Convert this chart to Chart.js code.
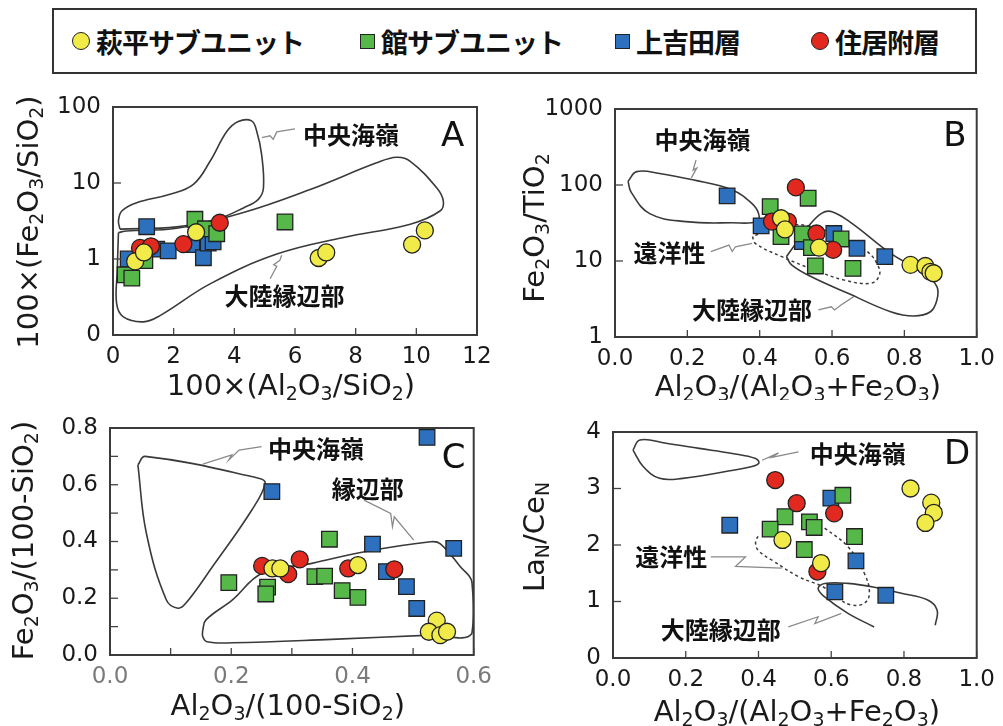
<!DOCTYPE html>
<html><head><meta charset="utf-8">
<script src="https://cdn.jsdelivr.net/npm/chart.js@4/dist/chart.umd.min.js"></script>
<style>
html,body{margin:0;padding:0;background:#fff;}
body{width:1003px;height:726px;overflow:hidden;position:relative;}
canvas{position:absolute;display:block;}
#legend{position:absolute;left:52px;top:8px;width:921px;height:62px;border:2px solid #333;}
.item{position:absolute;top:0;height:62px;display:flex;align-items:center;font:bold 27px "Noto Sans CJK JP";color:#111;white-space:nowrap;letter-spacing:-1px;}
.mk{display:inline-block;border:1.5px solid #222;margin-right:6px;box-sizing:border-box;}
</style></head><body>
<div id="legend"></div>
<canvas id="cA" width="500" height="322" style="left:0;top:78px"></canvas>
<canvas id="cB" width="503" height="322" style="left:500px;top:78px"></canvas>
<canvas id="cC" width="500" height="326" style="left:0;top:400px"></canvas>
<canvas id="cD" width="503" height="326" style="left:500px;top:400px"></canvas>
<script>
// ---------- series ----------
const seriesNames  = ['萩平サブユニット','館サブユニット','上吉田層','住居附層'];
const seriesColors = ['#f1eb4a','#55b848','#2d70be','#e2291f'];
const seriesShapes = ['circle','rect','rect','circle'];

// ---------- Panel A : 100×(Al2O3/SiO2) vs 100×(Fe2O3/SiO2) ----------
const A_yellow = [[0.73,0.93],[1.02,1.22],[2.74,2.25],[6.78,1.03],[7.03,1.22],[9.86,1.55],[10.28,2.38]];
const A_green  = [[0.40,0.62],[0.62,0.56],[1.05,0.95],[2.70,3.33],[3.05,2.5],[3.42,2.15],[5.67,3.07]];
const A_blue   = [[0.50,1.0],[1.11,2.66],[1.44,1.35],[1.82,1.28],[2.60,1.55],[2.98,1.04],[3.14,1.62],[3.30,1.68]];
const A_red    = [[0.89,1.40],[1.25,1.47],[2.32,1.57],[3.52,3.0]];
const A_fieldMOR = [[0.23,2.47],[0.18,3.17],[0.29,4.28],[0.78,5.5],[1.88,7.1],[2.65,9.6],[3.2,19.3],[3.75,47.5],[4.13,64.5],[4.57,65.6],[4.74,47.5],[4.9,23.6],[4.96,8.6],[4.79,6.1],[4.3,4.7],[3.42,3.33],[2.1,2.65],[0.23,2.47]];
const A_fieldCM  = [[0.18,2.23],[0.14,0.70],[0.12,0.258],[0.34,0.173],[1.0,0.149],[1.55,0.18],[3.2,0.471],[5.4,1.16],[7.6,1.92],[9.8,2.87],[10.78,4.28],[10.89,5.78],[10.67,8.65],[9.8,19.3],[9.35,21.8],[8.69,18.4],[6.5,8.2],[4.3,4.08],[2.1,2.54],[0.45,2.34],[0.18,2.23]];
const A_leadMOR = [[4.91,39.4],[5.18,41.8],[5.28,37.5],[5.40,47.1],[6.0,51.5]];
const A_leadCM  = [[5.18,0.55],[5.40,0.80],[5.30,0.84],[5.50,0.96],[5.56,1.12]];
const A_xTicks = [0,2,4,6,8,10,12];
const A_xLabels = ['0','2','4','6','8','10','12'];
const A_yTicks = [0.1,1,10,100];
const A_yLabels = ['0','1','10','100'];

// ---------- Panel B : Al2O3/(Al2O3+Fe2O3) vs Fe2O3/TiO2 ----------
const B_yellow = [[0.459,36.5],[0.47,26],[0.564,15],[0.817,8.9],[0.858,8.6],[0.872,7.2],[0.881,6.9]];
const B_green  = [[0.429,52],[0.534,67],[0.459,21],[0.518,22.7],[0.625,19.5],[0.554,8.6],[0.658,8.0],[0.543,15]];
const B_blue   = [[0.31,72],[0.404,29],[0.605,23],[0.518,18],[0.669,14.7],[0.746,11.4]];
const B_red    = [[0.50,93],[0.434,33],[0.478,33],[0.557,23],[0.603,14]];
const B_fieldMOR = [[0.036,112],[0.060,150],[0.123,142],[0.215,117],[0.324,86],[0.379,57],[0.397,42],[0.393,33],[0.324,31.8],[0.196,33],[0.096,42],[0.045,80],[0.036,112]];
const B_fieldCM  = [[0.474,11.4],[0.50,17],[0.534,28.3],[0.571,42.4],[0.60,44.6],[0.655,31.3],[0.762,12.6],[0.854,6.9],[0.89,4.6],[0.89,3.07],[0.872,2.15],[0.826,1.89],[0.762,2.15],[0.644,3.76],[0.543,6.2],[0.488,8.9],[0.474,11.4]];
const B_fieldPEL = [[0.38,21],[0.388,17],[0.461,11.4],[0.552,7.6],[0.634,5.6],[0.708,5.1],[0.731,6.5],[0.726,8.9],[0.70,13],[0.65,18],[0.55,28],[0.46,29],[0.38,21]];
const B_leadMOR = [[0.224,213],[0.216,157],[0.226,167],[0.211,124]];
const B_leadPEL = [[0.265,13.3],[0.315,16.2],[0.324,13.3],[0.333,15.4],[0.379,17.1]];
const B_leadCM  = [[0.562,2.27],[0.598,2.5],[0.607,2.27],[0.625,2.64],[0.66,3.4]];
const B_xTicks = [0,0.2,0.4,0.6,0.8,1.0];
const B_xLabels = ['0.0','0.2','0.4','0.6','0.8','1.0'];
const B_yTicks = [1,10,100,1000];
const B_yLabels = ['1','10','100','1000'];

// ---------- Panel C : Al2O3/(100-SiO2) vs Fe2O3/(100-SiO2) ----------
const C_yellow = [[0.268,0.305],[0.281,0.305],[0.409,0.317],[0.539,0.121],[0.526,0.082],[0.545,0.070],[0.556,0.082]];
const C_green  = [[0.196,0.255],[0.260,0.239],[0.257,0.215],[0.362,0.408],[0.338,0.276],[0.354,0.278],[0.383,0.227],[0.409,0.203]];
const C_blue   = [[0.267,0.576],[0.523,0.767],[0.433,0.391],[0.567,0.376],[0.456,0.294],[0.489,0.241],[0.506,0.164]];
const C_red    = [[0.251,0.314],[0.294,0.285],[0.313,0.337],[0.393,0.305],[0.469,0.302]];
const C_fieldMOR = [[0.046,0.67],[0.058,0.70],[0.245,0.623],[0.256,0.605],[0.234,0.511],[0.169,0.311],[0.125,0.182],[0.112,0.165],[0.093,0.194],[0.06,0.429],[0.046,0.67]];
const C_fieldCM  = [[0.153,0.088],[0.158,0.123],[0.202,0.194],[0.251,0.288],[0.333,0.323],[0.42,0.364],[0.529,0.399],[0.545,0.392],[0.578,0.311],[0.597,0.258],[0.597,0.076],[0.529,0.07],[0.365,0.055],[0.202,0.043],[0.16,0.047],[0.153,0.065],[0.153,0.088]];
const C_leadMOR = [[0.153,0.673],[0.201,0.705],[0.196,0.687],[0.213,0.722],[0.25,0.734]];
const C_leadCM  = [[0.419,0.546],[0.463,0.499],[0.466,0.452],[0.469,0.487],[0.501,0.405]];
const C_xTicks = [0,0.1,0.2,0.3,0.4,0.5,0.6];
const C_xLabels = ['0.0','','0.2','','0.4','','0.6'];
const C_yTicks = [0,0.1,0.2,0.3,0.4,0.5,0.6,0.7,0.8];
const C_yLabels = ['0.0','','0.2','','0.4','','0.6','','0.8'];

// ---------- Panel D : Al2O3/(Al2O3+Fe2O3) vs LaN/CeN ----------
const D_yellow = [[0.466,2.09],[0.572,1.68],[0.818,3.0],[0.875,2.75],[0.882,2.57],[0.859,2.39]];
const D_green  = [[0.632,2.88],[0.473,2.50],[0.432,2.28],[0.54,2.41],[0.553,2.31],[0.664,2.15],[0.526,1.92]];
const D_blue   = [[0.321,2.35],[0.599,2.83],[0.668,1.72],[0.61,1.17],[0.75,1.11]];
const D_red    = [[0.446,3.15],[0.505,2.74],[0.608,2.56],[0.562,1.53]];
const D_fieldMOR = [[0.055,3.68],[0.074,3.86],[0.146,3.80],[0.237,3.71],[0.328,3.62],[0.392,3.53],[0.401,3.45],[0.382,3.39],[0.31,3.30],[0.192,3.18],[0.128,3.18],[0.083,3.39],[0.055,3.68]];
const D_fieldPEL = [[0.582,2.30],[0.646,1.97],[0.691,1.50],[0.705,1.15],[0.691,0.97],[0.655,0.94],[0.62,1.05],[0.58,1.25],[0.51,1.44],[0.44,1.72],[0.40,1.90],[0.392,2.05],[0.401,2.18]];
const D_fieldCM  = [[0.718,0.55],[0.646,0.79],[0.582,1.08],[0.564,1.23],[0.582,1.32],[0.646,1.32],[0.736,1.23],[0.79,1.15],[0.864,1.03],[0.891,0.85],[0.886,0.58]];
const D_leadMOR = [[0.41,3.50],[0.455,3.63],[0.436,3.55],[0.51,3.65]];
const D_leadPEL = [[0.269,1.79],[0.364,1.79],[0.337,1.62],[0.464,1.59]];
const D_leadCM  = [[0.482,0.55],[0.564,0.73],[0.555,0.61],[0.628,0.79]];
const D_xTicks = [0,0.2,0.4,0.6,0.8,1.0];
const D_xLabels = ['0.0','0.2','0.4','0.6','0.8','1.0'];
const D_yTicks = [0,1,2,3,4];
const D_yLabels = ['0','1','2','3','4'];

// ---------- helpers ----------
const TICK_FONT = {family:'DejaVu Sans', size:23};
const JP = '"Noto Sans CJK JP"';
const TITLE_SIZE = 29;

function pointSets(groups){
  const drawOrder = [0,2,3,1];
  return groups.map((g,i)=>({
    label: seriesNames[i],
    data: g.map(([x,y])=>({x,y})),
    pointStyle: seriesShapes[i],
    pointRadius: seriesShapes[i]==='circle' ? 8.5 : 11,
    pointHoverRadius: seriesShapes[i]==='circle' ? 8.5 : 11,
    backgroundColor: seriesColors[i],
    borderColor: '#222', borderWidth: 1.3,
    showLine: false, order: drawOrder[i]
  }));
}
function lineSet(pts, extra){
  return Object.assign({data: pts.map(([x,y])=>({x,y})), showLine:true, pointRadius:0, pointHoverRadius:0,
    borderColor:'#3a3a3a', borderWidth:1.6, tension:0.4, fill:false, order:20}, extra||{});
}
function leadSet(pts){ return lineSet(pts,{borderColor:'#8a8a8a', borderWidth:1.3, tension:0, order:21}); }

function drawRich(ctx, str, x, y, size, rotate){
  const segs=[];
  for(let i=0;i<str.length;i++){
    if(str[i]==='_'){ segs.push({t:str[i+1], sub:true}); i++; }
    else if(segs.length && !segs[segs.length-1].sub) segs[segs.length-1].t += str[i];
    else segs.push({t:str[i], sub:false});
  }
  const big = size+'px "DejaVu Sans"', small = Math.round(size*0.66)+'px "DejaVu Sans"';
  ctx.save();
  let w=0;
  segs.forEach(s=>{ ctx.font = s.sub?small:big; s.w = ctx.measureText(s.t).width; w+=s.w; });
  ctx.translate(x,y);
  if(rotate) ctx.rotate(-Math.PI/2);
  ctx.fillStyle='#1a1a1a'; ctx.textBaseline='alphabetic'; ctx.textAlign='left';
  let cx=-w/2; const base=size*0.36;
  segs.forEach(s=>{ ctx.font = s.sub?small:big; ctx.fillText(s.t, cx, s.sub? base+size*0.17 : base); cx+=s.w; });
  ctx.restore();
}

const deco = {
  id:'deco',
  afterDatasetsDraw(chart){
    const o = chart.options.plugins.deco; if(!o) return;
    const ctx = chart.ctx, a = chart.chartArea, xs = chart.scales.x, ys = chart.scales.y;
    ctx.save();
    ctx.strokeStyle='#444'; ctx.lineWidth=1.3;
    xs.ticks.forEach(t=>{ const p=xs.getPixelForValue(t.value); ctx.beginPath(); ctx.moveTo(p,a.bottom); ctx.lineTo(p,a.bottom-7); ctx.stroke(); });
    ys.ticks.forEach(t=>{ const p=ys.getPixelForValue(t.value); ctx.beginPath(); ctx.moveTo(a.left,p); ctx.lineTo(a.left+8,p); ctx.stroke(); });
    ctx.strokeStyle='#3b3b3b'; ctx.lineWidth=2;
    ctx.strokeRect(a.left, a.top, a.right-a.left, a.bottom-a.top);
    ctx.fillStyle='#111'; ctx.textAlign='center'; ctx.textBaseline='middle';
    ctx.font = 'bold 24px '+JP;
    (o.labels||[]).forEach(l=>{ ctx.fillText(l.text, xs.getPixelForValue(l.x), ys.getPixelForValue(l.y)); });
    ctx.font = '34px "DejaVu Sans"';
    ctx.fillText(o.letter.text, xs.getPixelForValue(o.letter.x), ys.getPixelForValue(o.letter.y));
    ctx.restore();
    drawRich(ctx, o.titleX, (a.left+a.right)/2 + (o.txdx||0), a.bottom + o.txdy, TITLE_SIZE, false);
    drawRich(ctx, o.titleY, o.tyx, (a.top+a.bottom)/2 + (o.tydy||0), TITLE_SIZE, true);
  }
};

function axis(type, min, max, vals, labels, color, fit){
  return {
    type, min, max,
    afterBuildTicks: s=>{ s.ticks = vals.map(v=>({value:v})); },
    afterFit: fit,
    ticks:{ callback:(v,i)=>labels[i], font:TICK_FONT, color, autoSkip:false, maxRotation:0, padding:0 },
    grid:{ display:false, drawTicks:false },
    border:{ display:false }
  };
}

function panel(id, area, xa, ya, groups, lines, deco_o){
  const cv = document.getElementById(id);
  const W = cv.width, H = cv.height;
  const xs = axis(xa.type||'linear', xa.min, xa.max, xa.ticks, xa.labels, xa.color||'#1a1a1a', s=>{ s.height = H-area.b; });
  xs.ticks.padding = 8;
  const ys = axis(ya.type||'linear', ya.min, ya.max, ya.ticks, ya.labels, '#1a1a1a', s=>{ s.width = area.l; });
  ys.ticks.padding = 12;
  return new Chart(cv, {
    type:'scatter',
    data:{ datasets: pointSets(groups).concat(lines) },
    options:{
      responsive:false, animation:false, events:[],
      layout:{ padding:{ left:0, top:area.t, right:W-area.r, bottom:0 } },
      plugins:{ legend:{display:false}, tooltip:{enabled:false}, deco: deco_o },
      scales:{ x: xs, y: ys }
    },
    plugins:[deco]
  });
}

// ---------- legend ----------
(function(){
  const lg = document.getElementById('legend');
  const lefts = [18, 306, 561, 757];
  seriesNames.forEach((n,i)=>{
    const it = document.createElement('div'); it.className='item'; it.style.left = lefts[i]+'px';
    const mk = document.createElement('span'); mk.className='mk';
    const sz = seriesShapes[i]==='circle'?18:15;
    mk.style.width=sz+'px'; mk.style.height=sz+'px'; mk.style.background=seriesColors[i];
    if(seriesShapes[i]==='circle') mk.style.borderRadius='50%';
    it.appendChild(mk); it.appendChild(document.createTextNode(n));
    lg.appendChild(it);
  });
})();

// ---------- charts ----------
panel('cA', {l:113,t:29,r:477,b:257},
  {min:0,max:12,ticks:A_xTicks,labels:A_xLabels},
  {type:'logarithmic',min:0.1,max:100,ticks:A_yTicks,labels:A_yLabels},
  [A_yellow,A_green,A_blue,A_red],
  [lineSet(A_fieldMOR), lineSet(A_fieldCM), leadSet(A_leadMOR), leadSet(A_leadCM)],
  {titleX:'100×(Al_2O_3/SiO_2)', titleY:'100×(Fe_2O_3/SiO_2)', txdy:50, txdx:-4, tyx:28, tydy:1,
   labels:[{text:'中央海嶺',x:7.85,y:43},{text:'大陸縁辺部',x:5.65,y:0.33}],
   letter:{text:'A',x:11.2,y:40}});

panel('cB', {l:115,t:31,r:480,b:259},
  {min:0,max:1,ticks:B_xTicks,labels:B_xLabels},
  {type:'logarithmic',min:1,max:1000,ticks:B_yTicks,labels:B_yLabels},
  [B_yellow,B_green,B_blue,B_red],
  [lineSet(B_fieldMOR), lineSet(B_fieldCM), lineSet(B_fieldPEL,{borderDash:[3,3],borderWidth:1.5}), leadSet(B_leadMOR), leadSet(B_leadPEL), leadSet(B_leadCM)],
  {titleX:'Al_2O_3/(Al_2O_3+Fe_2O_3)', titleY:'Fe_2O_3/TiO_2', txdy:49, txdx:2, tyx:34, tydy:5,
   labels:[{text:'中央海嶺',x:0.242,y:390},{text:'遠洋性',x:0.151,y:12.6},{text:'大陸縁辺部',x:0.379,y:2.27}],
   letter:{text:'B',x:0.94,y:430}});

panel('cC', {l:110,t:28,r:477,b:255},
  {min:0,max:0.6,ticks:C_xTicks,labels:C_xLabels,color:'#7a7a7a'},
  {min:0,max:0.8,ticks:C_yTicks,labels:C_yLabels},
  [C_yellow,C_green,C_blue,C_red],
  [lineSet(C_fieldMOR), lineSet(C_fieldCM), leadSet(C_leadMOR), leadSet(C_leadCM)],
  {titleX:'Al_2O_3/(100-SiO_2)', titleY:'Fe_2O_3/(100-SiO_2)', txdy:50, txdx:-4, tyx:23, tydy:-1,
   labels:[{text:'中央海嶺',x:0.34,y:0.728},{text:'縁辺部',x:0.425,y:0.587}],
   letter:{text:'C',x:0.567,y:0.69}});

panel('cD', {l:113,t:32,r:480,b:258},
  {min:0,max:1,ticks:D_xTicks,labels:D_xLabels},
  {min:0,max:4,ticks:D_yTicks,labels:D_yLabels},
  [D_yellow,D_green,D_blue,D_red],
  [lineSet(D_fieldMOR), lineSet(D_fieldCM), lineSet(D_fieldPEL,{borderDash:[3,3],borderWidth:1.5}), leadSet(D_leadMOR), leadSet(D_leadPEL), leadSet(D_leadCM)],
  {titleX:'Al_2O_3/(Al_2O_3+Fe_2O_3)', titleY:'La_N/Ce_N', txdy:53, txdx:2, tyx:34, tydy:-8,
   labels:[{text:'中央海嶺',x:0.673,y:3.62},{text:'遠洋性',x:0.16,y:1.79},{text:'大陸縁辺部',x:0.296,y:0.50}],
   letter:{text:'D',x:0.946,y:3.59}});
</script>
</body></html>
